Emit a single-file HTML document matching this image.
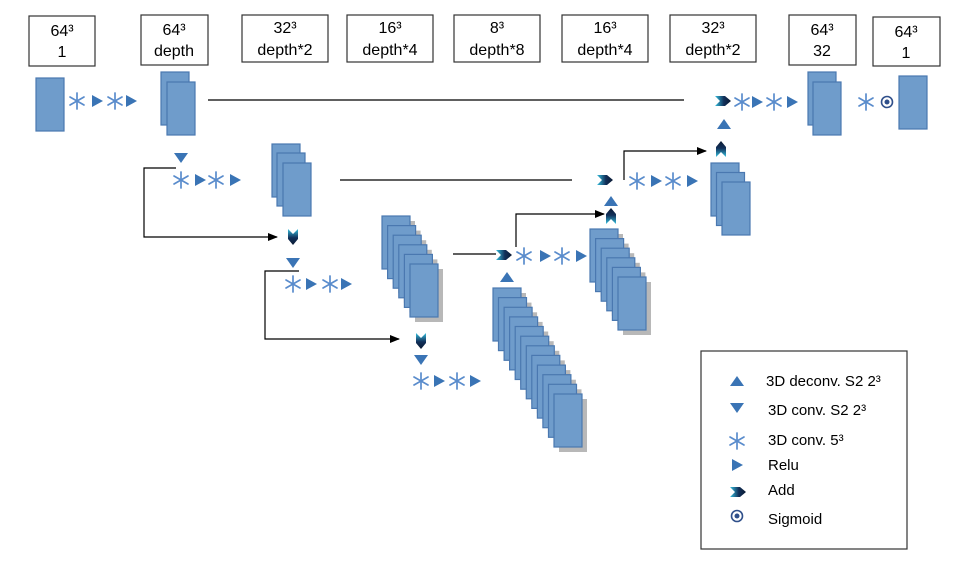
<!DOCTYPE html>
<html><head><meta charset="utf-8"><style>
html,body{margin:0;padding:0;background:#fff;}
svg{display:block;}
text{font-family:"Liberation Sans",sans-serif;fill:#000;}
</style></head><body>
<svg width="964" height="580" viewBox="0 0 964 580" xmlns="http://www.w3.org/2000/svg">
<defs>
<linearGradient id="gR" x1="0" y1="0" x2="1" y2="0"><stop offset="0" stop-color="#36c2e0"/><stop offset="0.55" stop-color="#12305a"/><stop offset="1" stop-color="#0b1a33"/></linearGradient>
<linearGradient id="gD" x1="0" y1="0" x2="0" y2="1"><stop offset="0" stop-color="#36c2e0"/><stop offset="0.55" stop-color="#12305a"/><stop offset="1" stop-color="#0b1a33"/></linearGradient>
<linearGradient id="gU" x1="0" y1="1" x2="0" y2="0"><stop offset="0" stop-color="#36c2e0"/><stop offset="0.55" stop-color="#12305a"/><stop offset="1" stop-color="#0b1a33"/></linearGradient>
<g id="ast" stroke="#5a8ccc" stroke-width="1.7" stroke-linecap="round"><line x1="0" y1="-8" x2="0" y2="8"/><line x1="-7" y1="-4" x2="7" y2="4"/><line x1="-7" y1="4" x2="7" y2="-4"/></g>
<polygon id="tr" points="-5,-6 6,0 -5,6" fill="#3a74b5"/>
<polygon id="tu" points="-7,5 0,-5 7,5" fill="#3a74b5"/>
<polygon id="td" points="-7,-5 0,5 7,-5" fill="#3a74b5"/>
<polygon id="addR" points="-8,-5 2,-5 8,0 2,5 -8,5 -3,0" fill="url(#gR)"/>
<polygon id="addD" points="-5,-8 0,-3 5,-8 5,2 0,8 -5,2" fill="url(#gD)"/>
<polygon id="addU" points="-5,8 0,3 5,8 5,-2 0,-8 -5,-2" fill="url(#gU)"/>
<rect id="blk" width="28" height="53" fill="#6f9ccb" stroke="#4a78b0" stroke-width="1.2"/>
<g id="blkS"><rect x="5" y="5" width="28" height="53" fill="#b8b8b8"/><rect width="28" height="53" fill="#6f9ccb" stroke="#4a78b0" stroke-width="1.2"/></g>
<marker id="ar" markerWidth="10" markerHeight="8" refX="9" refY="4" orient="auto" markerUnits="userSpaceOnUse"><polygon points="0,0 10,4 0,8" fill="#000"/></marker>
</defs>

<g fill="#fff" stroke="#333" stroke-width="1.2">
<rect x="29" y="16" width="66" height="50"/>
<rect x="141" y="15" width="67" height="50"/>
<rect x="242" y="15" width="86" height="47"/>
<rect x="347" y="15" width="86" height="47"/>
<rect x="454" y="15" width="86" height="47"/>
<rect x="562" y="15" width="86" height="47"/>
<rect x="670" y="15" width="86" height="47"/>
<rect x="789" y="15" width="67" height="50"/>
<rect x="873" y="17" width="67" height="49"/>
</g>
<g font-size="16" text-anchor="middle">
<text x="62" y="36">64³</text><text x="62" y="57">1</text>
<text x="174" y="35">64³</text><text x="174" y="56">depth</text>
<text x="285" y="33">32³</text><text x="285" y="55">depth*2</text>
<text x="390" y="33">16³</text><text x="390" y="55">depth*4</text>
<text x="497" y="33">8³</text><text x="497" y="55">depth*8</text>
<text x="605" y="33">16³</text><text x="605" y="55">depth*4</text>
<text x="713" y="33">32³</text><text x="713" y="55">depth*2</text>
<text x="822" y="35">64³</text><text x="822" y="56">32</text>
<text x="906" y="37">64³</text><text x="906" y="58">1</text>
</g>

<g stroke="#000" stroke-width="1.2" fill="none">
<line x1="208" y1="100" x2="684" y2="100"/>
<line x1="340" y1="180" x2="572" y2="180"/>
<line x1="453" y1="254" x2="496" y2="254"/>
<polyline points="176,168 144,168 144,237 277,237" marker-end="url(#ar)"/>
<polyline points="299,271 265,271 265,339 399,339" marker-end="url(#ar)"/>
<polyline points="516,247 516,214 604,214" marker-end="url(#ar)"/>
<polyline points="624,180 624,151 706,151" marker-end="url(#ar)"/>
</g>

<use href="#blk" x="36" y="78"/>
<use href="#blk" x="161" y="72"/><use href="#blk" x="167" y="82"/>
<use href="#blk" x="272" y="144"/><use href="#blk" x="277" y="153"/><use href="#blk" x="283" y="163"/>
<g>
<use href="#blkS" x="382" y="216"/><use href="#blkS" x="387.6" y="225.6"/><use href="#blkS" x="393.2" y="235.2"/><use href="#blkS" x="398.8" y="244.8"/><use href="#blkS" x="404.4" y="254.4"/><use href="#blkS" x="410" y="264"/>
</g>
<g>
<use href="#blkS" x="493" y="288"/><use href="#blkS" x="498.5" y="297.6"/><use href="#blkS" x="504.1" y="307.3"/><use href="#blkS" x="509.6" y="316.9"/><use href="#blkS" x="515.2" y="326.5"/><use href="#blkS" x="520.7" y="336.2"/><use href="#blkS" x="526.3" y="345.8"/><use href="#blkS" x="531.8" y="355.4"/><use href="#blkS" x="537.4" y="365.1"/><use href="#blkS" x="542.9" y="374.7"/><use href="#blkS" x="548.5" y="384.3"/><use href="#blkS" x="554" y="394"/>
</g>
<g>
<use href="#blkS" x="590" y="229"/><use href="#blkS" x="595.6" y="238.6"/><use href="#blkS" x="601.2" y="248.2"/><use href="#blkS" x="606.8" y="257.8"/><use href="#blkS" x="612.4" y="267.4"/><use href="#blkS" x="618" y="277"/>
</g>
<use href="#blk" x="711" y="163"/><use href="#blk" x="716.5" y="172.5"/><use href="#blk" x="722" y="182"/>
<use href="#blk" x="808" y="72"/><use href="#blk" x="813" y="82"/>
<use href="#blk" x="899" y="76"/>

<use href="#ast" x="77" y="101"/><use href="#tr" x="97" y="101"/><use href="#ast" x="115" y="101"/><use href="#tr" x="131" y="101"/>
<use href="#td" x="181" y="158"/>
<use href="#ast" x="181" y="180"/><use href="#tr" x="200" y="180"/><use href="#ast" x="216" y="180"/><use href="#tr" x="235" y="180"/>
<use href="#addD" x="293" y="237"/>
<use href="#td" x="293" y="263"/>
<use href="#ast" x="293" y="284"/><use href="#tr" x="311" y="284"/><use href="#ast" x="330" y="284"/><use href="#tr" x="346" y="284"/>
<use href="#addD" x="421" y="341"/>
<use href="#td" x="421" y="360"/>
<use href="#ast" x="421" y="381"/><use href="#tr" x="439" y="381"/><use href="#ast" x="457" y="381"/><use href="#tr" x="475" y="381"/>
<use href="#addR" x="504" y="255"/>
<use href="#tu" x="507" y="277"/>
<use href="#ast" x="524" y="256"/><use href="#tr" x="545" y="256"/><use href="#ast" x="562" y="256"/><use href="#tr" x="581" y="256"/>
<use href="#addU" x="611" y="216"/>
<use href="#tu" x="611" y="201"/>
<use href="#addR" x="605" y="180"/>
<use href="#ast" x="637" y="181"/><use href="#tr" x="656" y="181"/><use href="#ast" x="673" y="181"/><use href="#tr" x="692" y="181"/>
<use href="#addU" x="721" y="149"/>
<use href="#tu" x="724" y="124"/>
<use href="#addR" x="723" y="101"/>
<use href="#ast" x="742" y="102"/><use href="#tr" x="757" y="102"/><use href="#ast" x="774" y="102"/><use href="#tr" x="792" y="102"/>
<use href="#ast" x="866" y="102"/>
<circle cx="887" cy="102" r="5.5" fill="none" stroke="#2f4f8a" stroke-width="1.6"/><circle cx="887" cy="102" r="2.5" fill="#2f4f8a"/>

<rect x="701" y="351" width="206" height="198" fill="#fff" stroke="#333" stroke-width="1.2"/>
<use href="#tu" x="737" y="381"/>
<use href="#td" x="737" y="408"/>
<use href="#ast" x="737" y="441"/>
<use href="#tr" x="737" y="465"/>
<use href="#addR" x="738" y="492"/>
<circle cx="737" cy="516" r="5.5" fill="none" stroke="#2f4f8a" stroke-width="1.6"/><circle cx="737" cy="516" r="2.5" fill="#2f4f8a"/>
<g font-size="15">
<text x="766" y="386">3D deconv. S2 2³</text>
<text x="768" y="415">3D conv. S2 2³</text>
<text x="768" y="445">3D conv. 5³</text>
<text x="768" y="470">Relu</text>
<text x="768" y="495">Add</text>
<text x="768" y="524">Sigmoid</text>
</g>
</svg>
</body></html>
